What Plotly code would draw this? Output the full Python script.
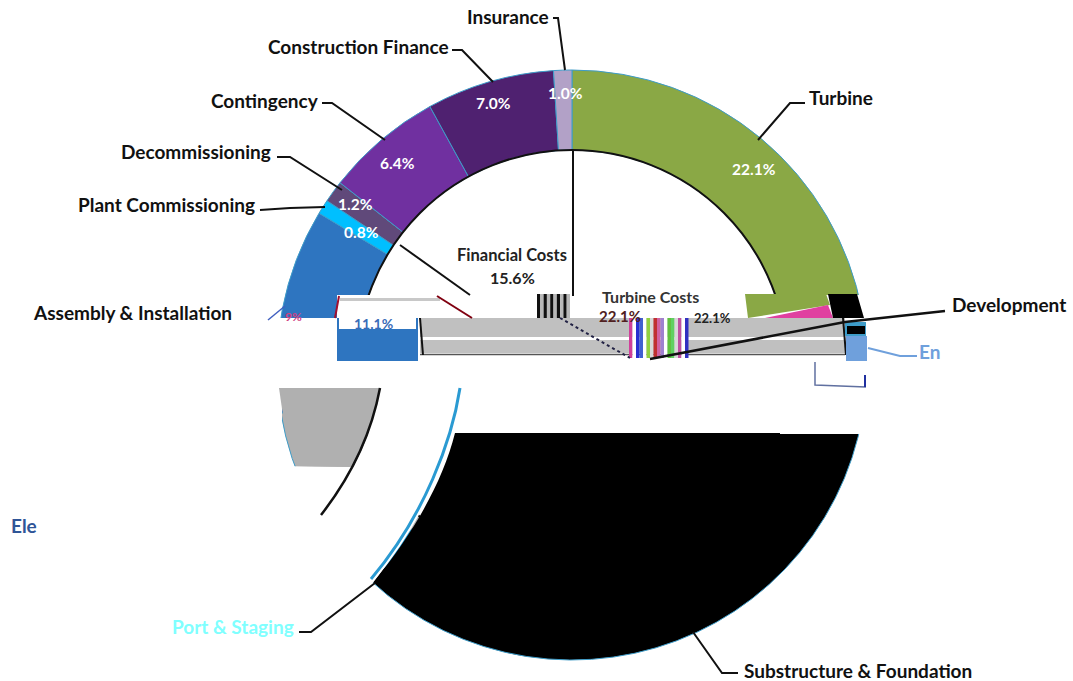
import plotly.graph_objects as go

# ---------- data ----------
categories = ["Turbine", "Development", "Engineering Management", "Substructure & Foundation",
              "Port & Staging", "Electrical Infrastructure", "Assembly & Installation",
              "Plant Commissioning", "Decommissioning", "Contingency", "Construction Finance", "Insurance"]
values = [22.1, 0.9, 1.2, 37.7, 0.4, 10.1, 11.2, 0.8, 1.2, 6.4, 7.0, 1.0]
slice_colors = ["#8AA845", "#000000", "#6FA0DC", "#000000", "#1F9AD6", "#B0B0B0", "#2E75C0",
                "#00BFFF", "#60497A", "#7030A0", "#4F2170", "#B2A1C7"]

W, H = 1073, 681
FONT = "Lato"

def X(x): return x / W
def Y(y): return 1 - y / H

def path(d):
    """d: list of commands with pixel coordinates -> paper-coordinate SVG path."""
    out = []
    for item in d:
        cmd, pts = item[0], item[1:]
        out.append(cmd + " ".join(f"{X(a):.5f},{Y(b):.5f}" for a, b in pts))
    return " ".join(out) + " Z"

fig = go.Figure(go.Pie(
    labels=categories, values=values, sort=False, direction="clockwise", rotation=0,
    hole=215 / 295, textinfo="none", showlegend=False,
    marker=dict(colors=slice_colors, line=dict(color="#3E9CC8", width=1)),
    domain=dict(x=[X(277), X(867)], y=[Y(660), Y(70)]),
))

shapes = []
def rect(x0, y0, x1, y1, color):
    shapes.append(dict(type="rect", xref="paper", yref="paper", x0=X(x0), x1=X(x1), y0=Y(y0), y1=Y(y1),
                       fillcolor=color, line=dict(width=0), layer="above"))
def poly(d, color):
    shapes.append(dict(type="path", xref="paper", yref="paper", path=path(d), fillcolor=color,
                       line=dict(width=0), layer="above"))
def line(pts, color="#111111", width=2, dash="solid"):
    p = "M" + " L".join(f"{X(a):.5f},{Y(b):.5f}" for a, b in pts)
    shapes.append(dict(type="path", xref="paper", yref="paper", path=p,
                       line=dict(color=color, width=width, dash=dash), layer="above"))
def curve(cmd, color, width):
    p = " ".join(c + " ".join(f"{X(a):.5f},{Y(b):.5f}" for a, b in pts) for c, *pts in cmd)
    shapes.append(dict(type="path", xref="paper", yref="paper", path=p, line=dict(color=color, width=width), layer="above"))

# inner edge of the ring
shapes.append(dict(type="circle", xref="paper", yref="paper", x0=X(357), x1=X(787), y0=Y(150), y1=Y(580),
                   line=dict(color="#111111", width=2), layer="above"))

# damaged horizontal bands
rect(337, 295, 875, 318, "#FFFFFF")
rect(265, 318, 875, 388, "#FFFFFF")
rect(381, 388, 875, 434, "#FFFFFF")
rect(270, 388, 282, 420, "#FFFFFF")
poly([("M", (380, 388)), ("C", (374, 420), (364, 448), (353, 467)), ("L", (270, 466)), ("L", (270, 600)),
      ("L", (372, 584)), ("C", (415, 530), (445, 480), (458, 388))], "#FFFFFF")
poly([("M", (279, 388)), ("Q", (284, 430), (297, 466)), ("L", (353, 467)),
      ("C", (364, 448), (374, 420), (380, 388))], "#B0B0B0")
# filled wedge of the lower half
poly([("M", (455, 433)), ("L", (780, 433)), ("L", (780, 520)), ("L", (572, 600)), ("L", (374, 582)),
      ("C", (417, 528), (443, 480), (455, 433))], "#000000")
curve([("M", (460, 388)), ("C", (452, 440), (425, 515), (371, 579))], "#2A9AD2", 3)
curve([("M", (380, 388)), ("C", (374, 420), (360, 465), (321, 515))], "#111111", 2.5)

# left fragment
rect(337, 318, 418, 361, "#2E75C0")
rect(339, 318, 416, 329, "#FFFFFF")
rect(340, 298, 440, 301, "#C8C8C8")
line([(339, 296), (335, 318)], "#A01030", 2)

# grey bands
rect(420, 318, 845, 337, "#C0C0C0")
rect(420, 340, 845, 353, "#C0C0C0")
line([(420, 354.5), (845, 354.5)], "#555555", 1.5)
line([(420, 318), (423, 355)], "#111111", 2)
line([(843, 318), (846, 355)], "#111111", 2)

# striped blocks
stripes_top = ["#111111", "#B8B8B8"] * 5
for i, c in enumerate(stripes_top):
    rect(537 + i * 3.3, 294, 537 + (i + 1) * 3.3, 318, c)
stripes_mid = ["#D0409A", "#FFFFFF", "#2830D0", "#4060D0", "#FFFFFF", "#90D040", "#D8D8D8", "#C03030",
               "#D060A0", "#A080D0", "#FFFFFF", "#60C040", "#60D060", "#D8D8D8", "#C050A0", "#FFFFFF", "#3030C0"]
for i, c in enumerate(stripes_mid):
    rect(629 + i * 3.5, 318, 629 + (i + 1) * 3.5, 358, c)

# right fragment
poly([("M", (745, 294)), ("L", (826, 294)), ("L", (830, 305)), ("L", (748, 318))], "#8AA845")
poly([("M", (828, 305)), ("L", (833, 318)), ("L", (765, 318))], "#E040A0")
poly([("M", (828, 294)), ("L", (857, 294)), ("L", (864, 318)), ("L", (833, 318))], "#000000")
rect(845, 322, 866, 336, "#3E9CC8")
rect(847, 326, 865, 334, "#000000")
rect(846, 336, 867, 361, "#6FA0DC")
line([(815, 362), (815, 385), (866, 387)], "#6070A0", 1.5)
line([(865, 375), (865, 387)], "#2030A0", 2)

# leader lines
line([(553, 18), (558, 18), (565, 70)])
line([(452, 50), (462, 50), (493, 82)])
line([(322, 103), (332, 103), (385, 140)])
line([(277, 157), (290, 157), (342, 190)])
line([(260, 210), (290, 208), (325, 207)])
line([(805, 103), (790, 103), (758, 140)])
line([(738, 673), (722, 673), (693, 632)])
line([(299, 632), (311, 632), (375, 583)])
line([(400, 245), (470, 295)])
line([(437, 296), (472, 318)], "#800010", 2)
line([(573, 150), (573, 296)])
line([(560, 318), (630, 358)], "#222244", 2, "dot")
line([(650, 359), (845, 322), (945, 311)], "#111111", 2.5)
line([(917, 356), (900, 356), (868, 348)], "#6FA0DC", 2)
line([(268, 320), (285, 306)], "#4060C0", 1.5)

fig.update_layout(width=W, height=H, margin=dict(l=0, r=0, t=0, b=0), paper_bgcolor="white",
                  plot_bgcolor="white", shapes=shapes)

def label(text, x, y, color="#111111", size=19, bold=True, anchor="center"):
    t = f"<b>{text}</b>" if bold else text
    fig.add_annotation(xref="paper", yref="paper", x=X(x), y=Y(y), text=t, showarrow=False, xanchor=anchor,
                       yanchor="middle", font=dict(family=FONT, size=size, color=color), align="center")

# category labels
label_names = ["Insurance", "Construction Finance", "Contingency", "Decommissioning", "Plant Commissioning",
               "Assembly & Installation", "Turbine", "Development", "Substructure & Foundation"]
label_pos = [(508, 17), (358, 47), (265, 100), (196, 152), (166, 204), (132, 312), (841, 97), (1009, 305), (858, 670)]
for name, (x, y) in zip(label_names, label_pos):
    label(name, x, y)
label("Port & Staging", 233, 626, "#80FFFF")
label("En", 917, 351, "#6FA0DC", anchor="left")
label("Ele", 9, 525, "#2F5597", anchor="left")

# percentage labels
pct_names = ["Insurance", "Construction Finance", "Contingency", "Turbine", "Decommissioning", "Plant Commissioning"]
pct_pos = [(565, 93), (493, 103), (397, 163), (754, 169), (355, 204), (361, 232)]
for name, (x, y) in zip(pct_names, pct_pos):
    label(f"{values[categories.index(name)]:.1f}%", x, y, "#FFFFFF", 15.5)
label("9%", 293, 316, "#D04080", 12)
label("11.1%", 374, 323, "#3A6CB8", 14)

financial_share = 15.6
turbine_share = 22.1
label("Financial Costs", 512, 255, "#222222", 16.5)
label(f"{financial_share}%", 512, 277, "#222222", 16)
label("Turbine Costs", 650, 296, "#333333", 16)
label(f"{turbine_share}%", 620, 316, "#502020", 15)
label(f"{turbine_share}%", 712, 318, "#222222", 13)

fig.write_html("out.html", config={"displayModeBar": False},
               post_script="document.body.style.margin='0';document.body.style.overflow='hidden';")
